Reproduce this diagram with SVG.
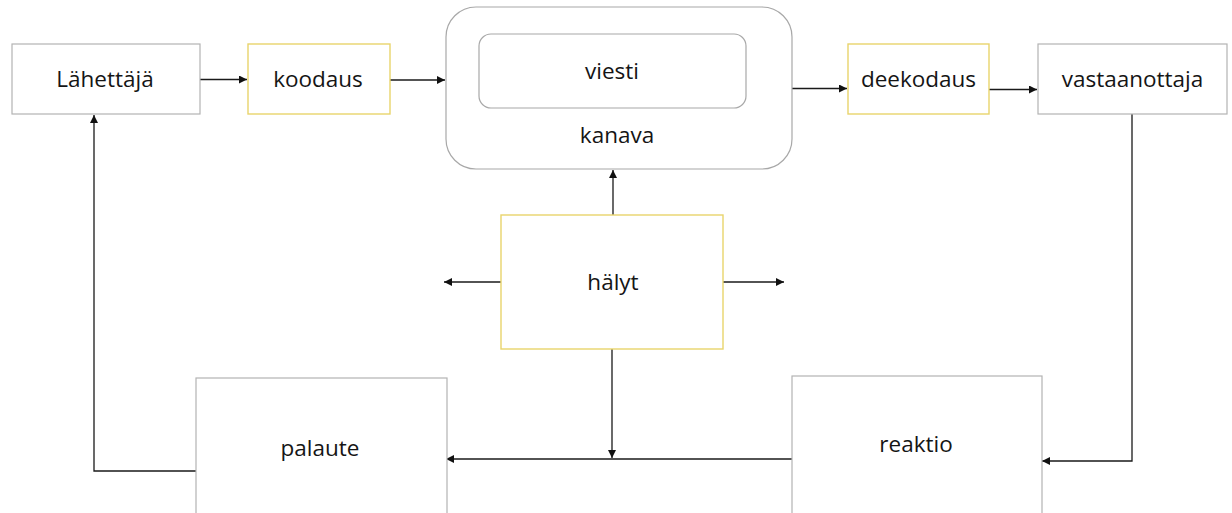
<svg xmlns="http://www.w3.org/2000/svg" width="1232" height="513" viewBox="0 0 1232 513">
  <defs>
    <style>
      .box { fill: #ffffff; stroke: #b3b3b3; stroke-width: 1.2; }
      .yel { fill: #ffffff; stroke: #e9d46c; stroke-width: 1.4; }
      .round { fill: #ffffff; stroke: #a8a8a8; stroke-width: 1.2; }
      .lbl { font-family: "Open Sans", "Noto Sans", "Liberation Sans", sans-serif; font-size: 22.5px; fill: #151515; text-anchor: middle; }
      .edge { fill: none; stroke: #1a1a1a; stroke-width: 1.3; marker-end: url(#head); }
    </style>
    <marker id="head" viewBox="0 0 10 10" refX="10" refY="5" markerWidth="9" markerHeight="8" markerUnits="userSpaceOnUse" orient="auto">
      <path d="M0,0 L10,5 L0,10 z" fill="#111111"/>
    </marker>
  </defs>

  <rect width="1232" height="513" fill="#ffffff"/>

  <g id="connectors">
    <path class="edge" d="M200,79.5 H247"/>
    <path class="edge" d="M390,80 H445"/>
    <path class="edge" d="M792,88.5 H847"/>
    <path class="edge" d="M989,89.5 H1037"/>
    <path class="edge" d="M1132,114 V461 H1042"/>
    <path class="edge" d="M792,459 H446"/>
    <path class="edge" d="M196,471 H94 V115"/>
    <path class="edge" d="M613,215 V170"/>
    <path class="edge" d="M612,349 V458"/>
    <path class="edge" d="M501,282 H444"/>
    <path class="edge" d="M723,282 H784"/>
  </g>

  <g id="lahettaja">
    <rect class="box" x="12" y="44" width="188" height="70"/>
    <text class="lbl" x="105" y="87">Lähettäjä</text>
  </g>

  <g id="koodaus">
    <rect class="yel" x="248" y="44" width="142" height="70"/>
    <text class="lbl" x="318" y="87">koodaus</text>
  </g>

  <g id="kanava">
    <rect class="round" x="446" y="7" width="346" height="162" rx="30" ry="30"/>
    <text class="lbl" x="617" y="143">kanava</text>
  </g>

  <g id="viesti">
    <rect class="round" x="479" y="34" width="267" height="74" rx="12" ry="12"/>
    <text class="lbl" x="612" y="79">viesti</text>
  </g>

  <g id="deekodaus">
    <rect class="yel" x="848" y="44" width="141" height="70"/>
    <text class="lbl" x="918.5" y="87">deekodaus</text>
  </g>

  <g id="vastaanottaja">
    <rect class="box" x="1038" y="44" width="189" height="70"/>
    <text class="lbl" x="1132.5" y="87">vastaanottaja</text>
  </g>

  <g id="halyt">
    <rect class="yel" x="501" y="215" width="222" height="134"/>
    <text class="lbl" x="613" y="290">hälyt</text>
  </g>

  <g id="palaute">
    <rect class="box" x="196" y="378" width="251" height="150"/>
    <text class="lbl" x="320" y="456">palaute</text>
  </g>

  <g id="reaktio">
    <rect class="box" x="792" y="376" width="250" height="150"/>
    <text class="lbl" x="916" y="452">reaktio</text>
  </g>
</svg>
